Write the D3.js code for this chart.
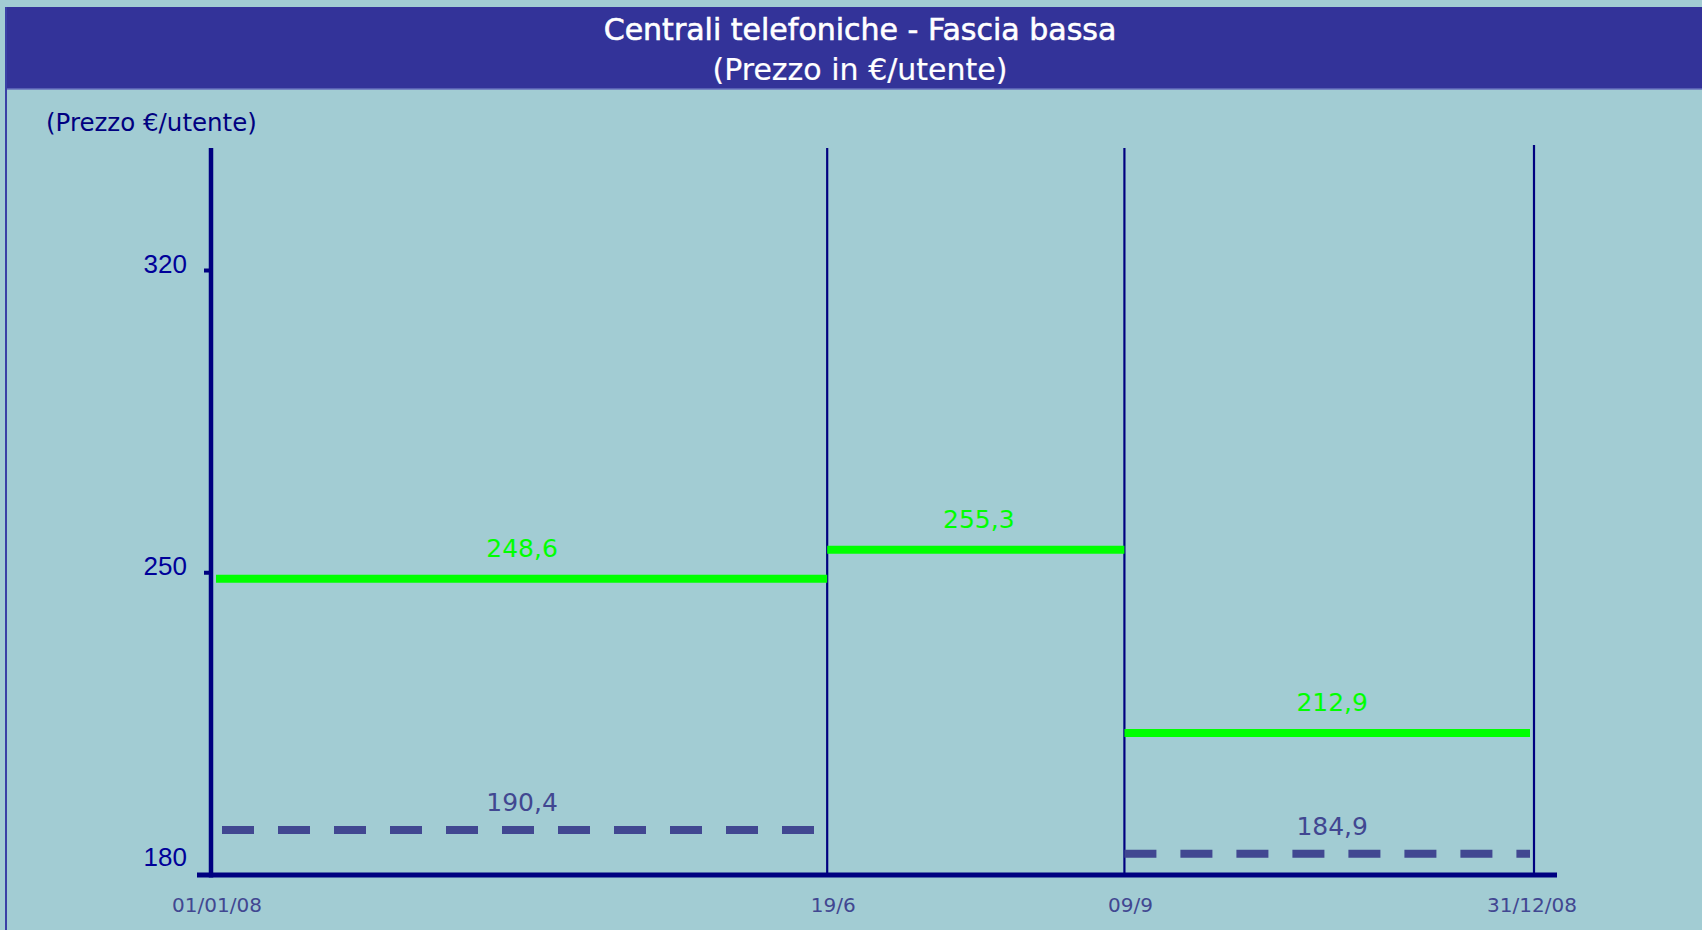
<!DOCTYPE html>
<html>
<head>
<meta charset="utf-8">
<script src="https://cdn.jsdelivr.net/npm/d3@7"></script>
<style>
  html, body { margin: 0; padding: 0; background: #A2CCD3; }
  svg { display: block; }
</style>
</head>
<body>
<svg id="chart" width="1702" height="930"></svg>
<script>
// ---- data ----
const titleLines = ["Centrali telefoniche - Fascia bassa", "(Prezzo in €/utente)"];
const yAxisTitle = "(Prezzo €/utente)";
const boundaryDates = ["2008-01-01", "2008-06-19", "2008-09-09", "2008-12-31"];
const boundaryLabels = ["01/01/08", "19/6", "09/9", "31/12/08"];
const yTicks = [180, 250, 320];
const solidValues = [248.6, 255.3, 212.9];     // green solid segments per period
const dashedValues = [190.4, null, 184.9];     // dashed segments per period
const valueFormat = v => v.toFixed(1).replace(".", ",");

// ---- layout ----
const W = 1702, H = 930;
const svg = d3.select("#chart");
const parse = d3.timeParse("%Y-%m-%d");
const dates = boundaryDates.map(parse);

const x = d3.scaleTime().domain([dates[0], dates[dates.length - 1]]).range([211, 1534]);
const y = d3.scaleLinear().domain([180, 320]).range([875, 270.5]);

const navy = "#000080";
const green = "#00FF00";
const dashCol = "#414791";
const font = "'DejaVu Sans', Verdana, sans-serif";

// background
svg.append("rect").attr("width", W).attr("height", H).attr("fill", "#A2CCD3");

// header band
svg.append("rect").attr("x", 5).attr("y", 7).attr("width", W - 5).attr("height", 82).attr("fill", "#333399");
svg.append("line").attr("x1", 5).attr("x2", W).attr("y1", 89).attr("y2", 89)
  .attr("stroke", "#6670BE").attr("stroke-width", 1.5);
svg.append("line").attr("x1", 6).attr("x2", 6).attr("y1", 7).attr("y2", H)
  .attr("stroke", "#3A40A6").attr("stroke-width", 2);

svg.selectAll("text.title").data(titleLines).join("text")
  .attr("class", "title")
  .attr("x", 860)
  .attr("y", (d, i) => 40 + i * 40)
  .attr("text-anchor", "middle")
  .attr("fill", "#FFFFFF")
  .attr("font-family", font)
  .attr("font-size", 30)
  .attr("stroke", "#FFFFFF")
  .attr("stroke-width", (d, i) => i === 0 ? 0.6 : 0.2)
  .text(d => d);

// y axis title
svg.append("text")
  .attr("x", 46).attr("y", 131)
  .attr("fill", navy)
  .attr("font-family", font)
  .attr("font-size", 24.5)
  .text(yAxisTitle);

// vertical boundary lines (all but first)
svg.selectAll("line.vb").data(dates.slice(1)).join("line")
  .attr("class", "vb")
  .attr("x1", d => x(d)).attr("x2", d => x(d))
  .attr("y1", (d, i) => i === dates.length - 2 ? 145 : 148)
  .attr("y2", y(180))
  .attr("stroke", navy).attr("stroke-width", 2.2);

// y axis line
svg.append("line")
  .attr("x1", x(dates[0])).attr("x2", x(dates[0]))
  .attr("y1", 148).attr("y2", y(180) + 2.5)
  .attr("stroke", navy).attr("stroke-width", 4.5);

// y ticks
svg.selectAll("rect.tick").data(yTicks.filter(v => v !== 180)).join("rect")
  .attr("class", "tick")
  .attr("x", x(dates[0]) - 7).attr("y", d => y(d) - 2)
  .attr("width", 6).attr("height", 4)
  .attr("fill", navy);

svg.selectAll("text.ytick").data(yTicks).join("text")
  .attr("class", "ytick")
  .attr("x", 187)
  .attr("y", d => Math.min(y(d) + 2.5, y(180) - 9))
  .attr("text-anchor", "end")
  .attr("fill", "#000099")
  .attr("font-family", "'Liberation Sans', Arial, sans-serif")
  .attr("font-size", 26)
  .text(d => d);

// x axis line
svg.append("line")
  .attr("x1", 197).attr("x2", 1557)
  .attr("y1", y(180)).attr("y2", y(180))
  .attr("stroke", navy).attr("stroke-width", 5);

// x labels
svg.selectAll("text.xlab").data(dates).join("text")
  .attr("class", "xlab")
  .attr("x", (d, i) => x(d) + (i === dates.length - 1 ? -2 : 6))
  .attr("y", 912)
  .attr("text-anchor", "middle")
  .attr("fill", dashCol)
  .attr("font-family", font)
  .attr("font-size", 20)
  .text((d, i) => boundaryLabels[i]);

// period segments
const periods = solidValues.map((v, i) => ({
  i, start: dates[i], end: dates[i + 1], solid: v, dashed: dashedValues[i]
}));
const last = periods.length - 1;

const gSolid = svg.append("g");
gSolid.selectAll("line").data(periods).join("line")
  .attr("x1", d => x(d.start) + (d.i === 0 ? 5 : 0))
  .attr("x2", d => x(d.end) - (d.i === last ? 4 : 0))
  .attr("y1", d => y(d.solid)).attr("y2", d => y(d.solid))
  .attr("stroke", green).attr("stroke-width", 8);

gSolid.selectAll("text").data(periods).join("text")
  .attr("x", d => (x(d.start) + x(d.end)) / 2 + 3)
  .attr("y", d => y(d.solid) - 22)
  .attr("text-anchor", "middle")
  .attr("fill", green)
  .attr("font-family", font)
  .attr("font-size", 25)
  .text(d => valueFormat(d.solid));

const dashed = periods.filter(d => d.dashed != null);
const gDash = svg.append("g");
gDash.selectAll("line").data(dashed).join("line")
  .attr("x1", d => x(d.start) + (d.i === 0 ? 11 : 0))
  .attr("x2", d => x(d.end) - 4)
  .attr("y1", d => y(d.dashed)).attr("y2", d => y(d.dashed))
  .attr("stroke", dashCol).attr("stroke-width", 8)
  .attr("stroke-dasharray", "32,24");

gDash.selectAll("text").data(dashed).join("text")
  .attr("x", d => (x(d.start) + x(d.end)) / 2 + 3)
  .attr("y", d => y(d.dashed) - 19)
  .attr("text-anchor", "middle")
  .attr("fill", dashCol)
  .attr("font-family", font)
  .attr("font-size", 25)
  .text(d => valueFormat(d.dashed));
</script>
</body>
</html>
